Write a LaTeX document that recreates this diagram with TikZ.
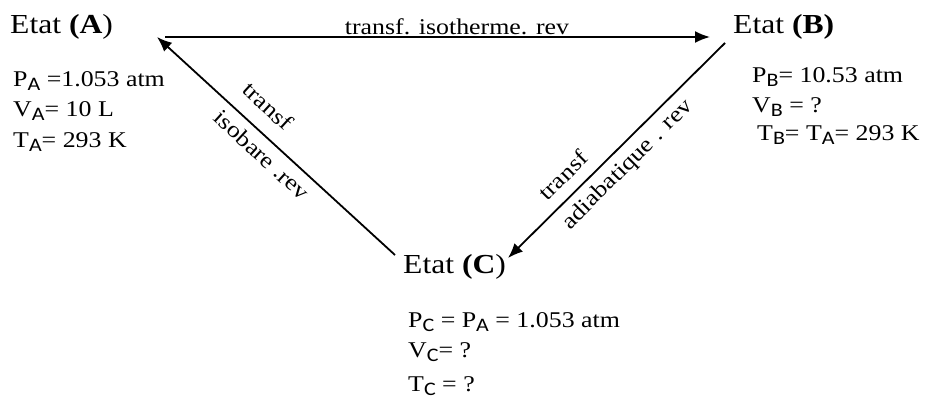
\documentclass[tikz,border=0pt]{standalone}
\usepackage{fontspec}
\usepackage{graphicx}
\setmainfont[FakeStretch=1.15]{Liberation Serif}
\newfontfamily\subfont[FakeStretch=1.15]{Carlito}
\usetikzlibrary{arrows.meta}
\newcommand\sbs[1]{\raisebox{-0.21em}{\scalebox{0.85}{\subfont #1}}}
\begin{document}
\begin{tikzpicture}[x=1pt,y=-1pt,
  etat/.style={font=\fontsize{27.5}{32}\selectfont, anchor=base west, inner sep=0pt},
  data/.style={font=\fontsize{22.5}{28}\selectfont, anchor=base west, inner sep=0pt},
  lbl/.style={font=\fontsize{22.5}{26}\selectfont, inner sep=0pt},
  arr/.style={line width=1.8pt, -{Latex[length=15pt,width=12pt]}}]
\useasboundingbox (0,0) rectangle (927,399);
% states
\node[etat] (EA) at (10,33) {Etat \textbf{(A})};
\node[etat] (EB) at (733,33) {Etat \textbf{(B)}};
\node[etat] (EC) at (403,273) {Etat \textbf{(C})};
% data A
\node[data] (pa) at (13,86) {P\sbs{A} =1.053 atm};
\node[data] (va) at (13,116) {V\sbs{A}= 10 L};
\node[data] (ta) at (13,147) {T\sbs{A}= 293 K};
% data B
\node[data] (pb) at (752,82) {P\sbs{B}= 10.53 atm};
\node[data] (vb) at (752,112) {V\sbs{B} = ?};
\node[data] (tb) at (757,140) {T\sbs{B}= T\sbs{A}= 293 K};
% data C
\node[data] (pc) at (408,327) {P\sbs{C} = P\sbs{A} = 1.053 atm};
\node[data] (vc) at (408,357) {V\sbs{C}= ?};
\node[data] (tc) at (408,391) {T\sbs{C} = ?};
% corners
\coordinate (cA) at (157,37);
\coordinate (cAh) at (165,37);
\coordinate (cB) at (710,37);
\coordinate (cB2) at (725,43);
\coordinate (cC1) at (395,255);
\coordinate (cC2) at (508,258);
% connectors
\draw[arr] (cAh) -- (cB);
\draw[arr] (cC1) -- (cA);
\draw[arr] (cB2) -- (cC2);
% labels
\node[lbl, anchor=base] (l1) at (457,34) {transf. isotherme. rev};
\node[lbl, rotate=-42.5] (l2) at (268,106) {transf};
\node[lbl, rotate=-42.5] (l3) at (262,155) {isobare .rev};
\node[lbl, rotate=45] (l4) at (563,175) {transf};
\node[lbl, rotate=45] (l5) at (628,165) {adiabatique . rev};
\end{tikzpicture}
\end{document}
